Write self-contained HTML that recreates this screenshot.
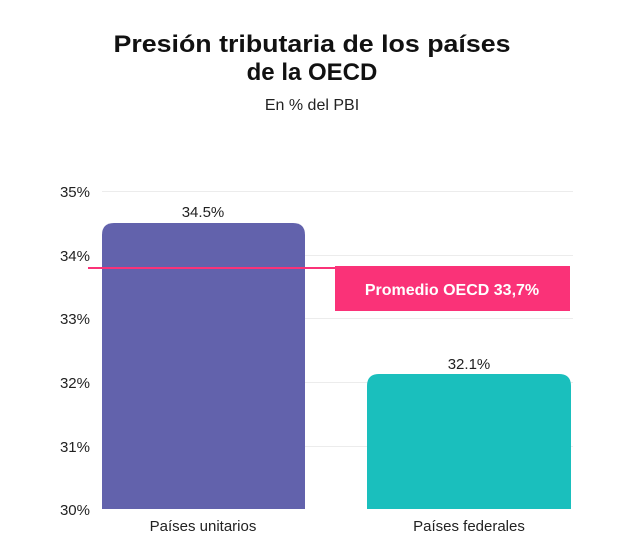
<!DOCTYPE html>
<html><head><meta charset="utf-8"><style>
html,body{margin:0;padding:0;background:#fff;width:640px;height:543px;overflow:hidden}
</style></head><body>
<svg width="640" height="543" xmlns="http://www.w3.org/2000/svg" font-family="Liberation Sans, sans-serif">
<rect width="640" height="543" fill="#fff"/>
<text x="312" y="52" text-anchor="middle" font-size="24" font-weight="bold" fill="#111" textLength="397" lengthAdjust="spacingAndGlyphs">Presión tributaria de los países</text>
<text x="312" y="80" text-anchor="middle" font-size="24" font-weight="bold" fill="#111">de la OECD</text>
<text x="312" y="110" text-anchor="middle" font-size="16" fill="#222">En % del PBI</text>
<g stroke="#ececec" stroke-width="1">
<line x1="102" x2="573" y1="191.5" y2="191.5"/>
<line x1="102" x2="573" y1="255.5" y2="255.5"/>
<line x1="102" x2="573" y1="318.5" y2="318.5"/>
<line x1="102" x2="573" y1="382.5" y2="382.5"/>
<line x1="102" x2="573" y1="446.5" y2="446.5"/>
</g>
<g font-size="15" fill="#222" text-anchor="end">
<text x="90" y="197">35%</text>
<text x="90" y="261">34%</text>
<text x="90" y="324">33%</text>
<text x="90" y="388">32%</text>
<text x="90" y="452">31%</text>
<text x="90" y="515">30%</text>
</g>
<path d="M102 509 V235 Q102 223 114 223 H293 Q305 223 305 235 V509 Z" fill="#6262ac"/>
<path d="M367 509 V386 Q367 374 379 374 H559 Q571 374 571 386 V509 Z" fill="#1abfbd"/>
<text x="203" y="217" text-anchor="middle" font-size="15" fill="#222">34.5%</text>
<text x="469" y="369" text-anchor="middle" font-size="15" fill="#222">32.1%</text>
<text x="203" y="531" text-anchor="middle" font-size="15" fill="#222">Países unitarios</text>
<text x="469" y="531" text-anchor="middle" font-size="15" fill="#222">Países federales</text>
<line x1="88" x2="336" y1="268" y2="268" stroke="#fa3278" stroke-width="2"/>
<rect x="335" y="266" width="235" height="45" fill="#fa3278"/>
<text x="452" y="295" text-anchor="middle" font-size="16" font-weight="bold" fill="#fff">Promedio OECD 33,7%</text>
</svg>
</body></html>
